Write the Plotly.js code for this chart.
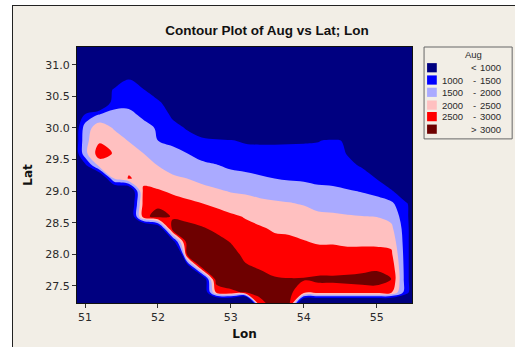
<!DOCTYPE html>
<html><head><meta charset="utf-8">
<script src="https://cdn.plot.ly/plotly-3.0.1.min.js"></script>
<style>
html,body{margin:0;padding:0;background:#ffffff;overflow:hidden;}
#frame{position:absolute;left:12px;top:5px;border-left:1px solid #222;border-top:1px solid #222;}
#chart{width:502px;height:341px;}
</style></head><body>
<div id="frame"><div id="chart"></div></div>
<script>
// Grid coordinates (Lon columns, Lat rows)
const lon = [50.8,51.0,51.2,51.4,51.6,51.8,52.0,52.2,52.4,52.6,52.8,53.0,53.2,53.4,53.6,53.8,54.0,54.2,54.4,54.6,54.8,55.0,55.2,55.4,55.6];
const lat = [27.2,27.4,27.6,27.8,28.0,28.2,28.4,28.6,28.8,29.0,29.2,29.4,29.6,29.8,30.0,30.2,30.4,30.6,30.8,31.0,31.2,31.4];
// Aug values, one row per Lat
const aug = [
 [0,0,0,0,0,0,0,0,0,0,-1500,-1500,-3000,2800,3200,3100,-1000,-1000,-1000,-1000,-1000,-1000,-1000,-300,0],
 [0,0,0,0,0,0,0,0,0,0,2600,2900,3050,3150,3150,3100,2700,2700,2700,2700,2700,2700,2600,1250,0],
 [0,0,0,0,0,0,0,0,0,0,3250,3300,3200,3150,3040,3020,3030,3100,3100,3150,3200,3250,3020,1250,0],
 [0,0,0,0,0,0,0,0,400,3100,3300,3250,3050,2960,2880,2860,2830,2780,2780,2750,2800,2880,2850,1250,0],
 [0,0,0,0,0,0,0,-2500,3050,3250,3250,3150,2900,2830,2750,2720,2680,2640,2640,2620,2630,2640,2600,1250,0],
 [0,0,0,0,0,0,0,600,3250,3200,3150,2980,2760,2700,2610,2580,2520,2460,2460,2420,2420,2410,2350,1250,0],
 [0,0,0,0,0,-800,0,3150,3150,3060,2920,2790,2620,2560,2450,2430,2360,2280,2260,2230,2210,2200,2120,1250,0],
 [0,0,0,0,0,2800,3250,2950,2880,2790,2720,2580,2470,2340,2260,2230,2180,2090,2070,2030,2010,1990,1860,1200,0],
 [0,0,0,0,0,2650,2850,2720,2600,2520,2390,2270,2200,2120,2070,2030,1970,1860,1830,1790,1740,1690,1590,1150,0],
 [0,0,0,0,0,2600,2550,2420,2330,2170,2060,1970,1930,1850,1800,1760,1680,1590,1570,1540,1470,1370,1150,0,0],
 [0,0,0,2000,2540,2350,2250,2070,2000,1870,1790,1690,1640,1560,1500,1450,1440,1410,1400,1280,1150,990,0,0,0],
 [0,800,2150,2300,2380,2200,2000,1850,1750,1600,1530,1420,1370,1330,1300,1300,1330,1270,1280,1080,970,0,0,0,0],
 [0,1850,2780,2450,2200,2000,1750,1620,1500,1350,1280,1200,1150,1100,1100,1120,1150,1130,1150,980,0,0,0,0,0],
 [0,1850,2420,2250,1980,1790,1500,1400,1220,1100,1050,1020,950,950,950,950,950,980,1060,950,0,0,0,0,0],
 [0,1750,2300,1950,1780,1590,1470,1200,950,700,600,500,0,0,0,0,0,0,0,0,0,0,0,0,0],
 [0,1100,1600,1625,1580,1450,1400,900,0,0,0,0,0,0,0,0,0,0,0,0,0,0,0,0,0],
 [0,0,0,1350,1420,1300,1300,0,0,0,0,0,0,0,0,0,0,0,0,0,0,0,0,0,0],
 [0,0,0,1150,1250,1100,0,0,0,0,0,0,0,0,0,0,0,0,0,0,0,0,0,0,0],
 [0,0,0,0,950,0,0,0,0,0,0,0,0,0,0,0,0,0,0,0,0,0,0,0,0],
 [0,0,0,0,0,0,0,0,0,0,0,0,0,0,0,0,0,0,0,0,0,0,0,0,0],
 [0,0,0,0,0,0,0,0,0,0,0,0,0,0,0,0,0,0,0,0,0,0,0,0,0],
 [0,0,0,0,0,0,0,0,0,0,0,0,0,0,0,0,0,0,0,0,0,0,0,0,0]
];
// Contour levels and band colours
const levelStart = 1000, levelEnd = 3000, levelStep = 500;
const bandColors = ['#000080','#0000ff','#aaaaff','#ffc0c0','#ff0000','#6e0000'];
const legendLow  = ['', '1000', '1500', '2000', '2500', ''];
const legendSym  = ['<', '-', '-', '-', '-', '>'];
const legendHigh = ['1000', '1500', '2000', '2500', '3000', '3000'];
const xTicks = [51, 52, 53, 54, 55];
const yTicks = [27.5, 28.0, 28.5, 29.0, 29.5, 30.0, 30.5, 31.0];

const nb = bandColors.length;
const colorscale = [];
bandColors.forEach((c, i) => {
  const a = Math.max(0, (i - 0.5) / (nb - 1));
  const b = Math.min(1, (i + 0.5) / (nb - 1));
  colorscale.push([a, c]); colorscale.push([b, c]);
});

const trace = {
  type: 'contour', x: lon, y: lat, z: aug,
  autocontour: false,
  contours: {start: levelStart, end: levelEnd, size: levelStep, coloring: 'fill', showlines: false},
  colorscale: colorscale, showscale: false,
  line: {width: 0, smoothing: 1},
  hoverinfo: 'skip'
};

const txt = '#2a2a2a';
const lf = {family: 'Liberation Sans, Arial', size: 9.5, color: txt};
const shapes = [], annotations = [];
// legend box
const lx0 = 1.036, lx1 = 1.299, ly1 = 1.0, ly0 = 0.641;
shapes.push({type:'rect', xref:'paper', yref:'paper', x0:lx0, x1:lx1, y0:ly0, y1:ly1, line:{color:'#666', width:1}, fillcolor:'rgba(0,0,0,0)'});
annotations.push({xref:'paper', yref:'paper', x:1.183, y:0.969, text:'Aug', showarrow:false, xanchor:'center', yanchor:'middle', font:lf});
const rowY = [0.919, 0.871, 0.823, 0.773, 0.728, 0.679];
const sh = 0.036;
for (let i = 0; i < nb; i++) {
  shapes.push({type:'rect', xref:'paper', yref:'paper', x0:1.045, x1:1.074, y0:rowY[i]-sh/2, y1:rowY[i]+sh/2, line:{width:0}, fillcolor:bandColors[i]});
  if (legendLow[i]) annotations.push({xref:'paper', yref:'paper', x:1.157, y:rowY[i], text:legendLow[i], showarrow:false, xanchor:'right', yanchor:'middle', font:lf});
  annotations.push({xref:'paper', yref:'paper', x:1.186, y:rowY[i], text:legendSym[i], showarrow:false, xanchor:'center', yanchor:'middle', font:lf});
  annotations.push({xref:'paper', yref:'paper', x:1.272, y:rowY[i], text:legendHigh[i], showarrow:false, xanchor:'right', yanchor:'middle', font:lf});
}

const layout = {
  width: 502, height: 341,
  margin: {l: 64, r: 103, t: 41, b: 44},
  paper_bgcolor: '#f2eee6', plot_bgcolor: '#000080',
  font: {family: 'DejaVu Sans', color: txt},
  title: {text: 'Contour Plot of Aug vs Lat; Lon', font: {family: 'Liberation Sans, Arial', size: 13.5, color: '#111', weight: 'bold'},
          x: 0.506, xref: 'container', xanchor: 'center', y: 0.93, yref: 'container', yanchor: 'middle'},
  xaxis: {range: [50.89, 55.485], tickvals: xTicks, ticktext: xTicks.map(String), ticks: 'outside', ticklen: 4, tickcolor: '#333',
          showgrid: false, zeroline: false, showline: true, mirror: true, linecolor: '#111', linewidth: 1,
          tickfont: {family: 'DejaVu Sans', size: 11, color: txt},
          title: {text: 'Lon', font: {family: 'DejaVu Sans', size: 12, color: '#111', weight: 'bold'}, standoff: 6}},
  yaxis: {range: [27.23, 31.28], tickvals: yTicks, ticktext: yTicks.map(v => v.toFixed(1)), ticks: 'outside', ticklen: 4, tickcolor: '#333',
          showgrid: false, zeroline: false, showline: true, mirror: true, linecolor: '#111', linewidth: 1,
          tickfont: {family: 'DejaVu Sans', size: 11, color: txt},
          title: {text: 'Lat', font: {family: 'DejaVu Sans', size: 12, color: '#111', weight: 'bold'}, standoff: 10}},
  shapes: shapes, annotations: annotations, showlegend: false
};

Plotly.newPlot('chart', [trace], layout, {staticPlot: true, displayModeBar: false});
</script>
</body></html>
